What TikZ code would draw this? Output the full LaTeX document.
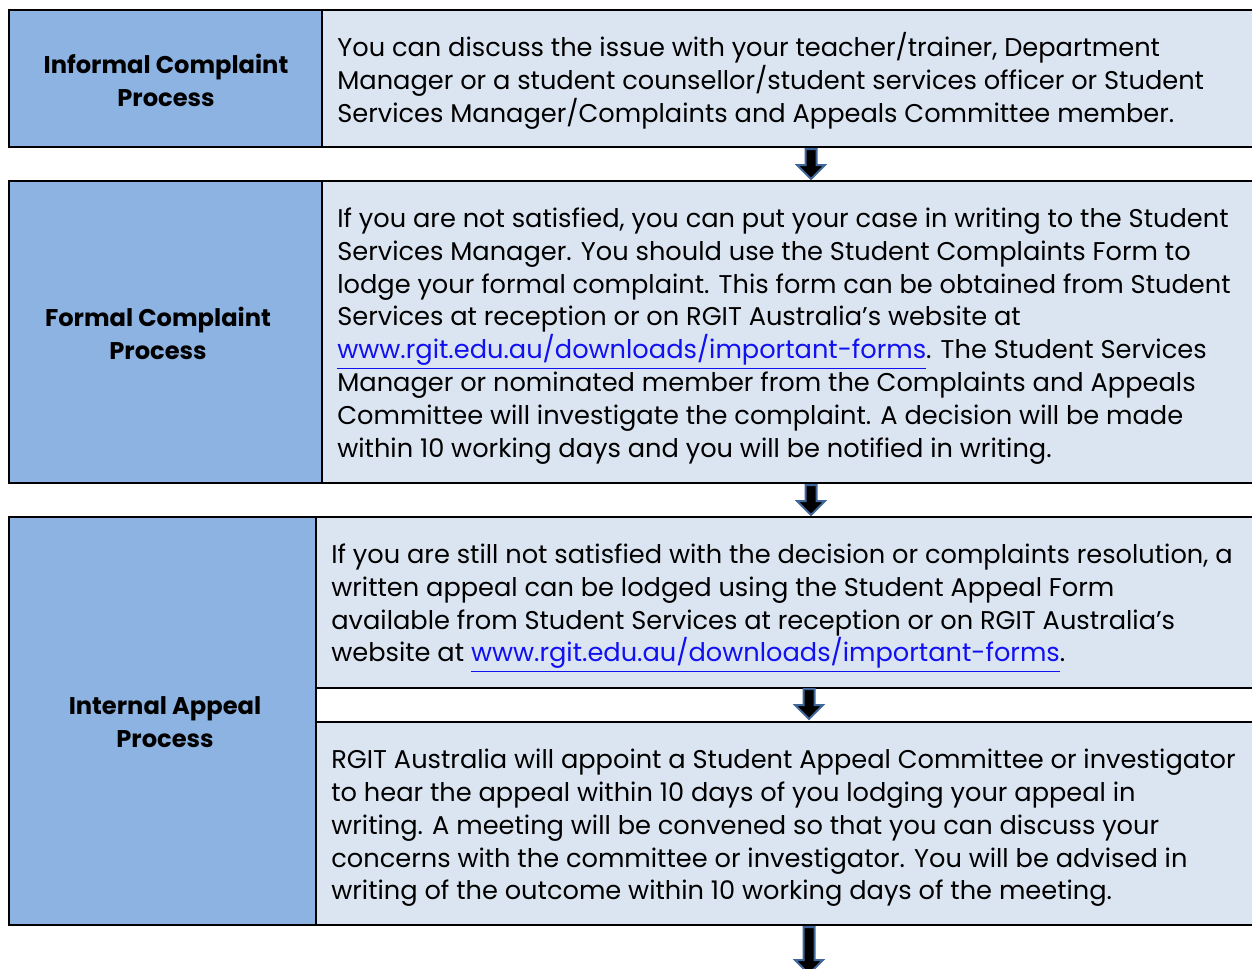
\documentclass[tikz,border=0pt]{standalone}
\usepackage{fontspec}
\setmainfont{Poppins}
\usetikzlibrary{calc}

\definecolor{headblue}{HTML}{8DB3E2}
\definecolor{bodyblue}{HTML}{DBE5F1}
\definecolor{arrowedge}{HTML}{41679A}
\definecolor{linkblue}{HTML}{1010F0}

\newcommand\weblink[1]{\textcolor{linkblue}{\underline{#1}}}

\begin{document}
\begin{tikzpicture}[x=0.6pt,y=-0.6pt,
    cell/.style={draw=black,line width=1.3pt},
    headtext/.style={align=center,font=\fontsize{14.5}{19.7}\selectfont\bfseries},
    bodytext/.style={anchor=west,align=left,inner sep=0pt,font=\fontsize{15.4}{19.7}\selectfont},
    blockarrow/.style={fill=black,draw=arrowedge,line width=1.2pt,line join=miter}]
  \useasboundingbox (0,0) rectangle (1252,968);
  \clip (0,0) rectangle (1252,968);

  % table cells
  \filldraw[cell,fill=headblue] (9,10) rectangle (322,147);
  \filldraw[cell,fill=bodyblue] (322,10) rectangle (1265,147);

  \filldraw[cell,fill=headblue] (9,181) rectangle (322,483);
  \filldraw[cell,fill=bodyblue] (322,181) rectangle (1265,483);

  \filldraw[cell,fill=headblue] (9,517) rectangle (316,925);
  \filldraw[cell,fill=bodyblue] (316,517) rectangle (1265,688);
  \draw[cell] (316,688) rectangle (1265,722);
  \filldraw[cell,fill=bodyblue] (316,722) rectangle (1265,925);

  % left column
  \node[headtext] (informal) at (166,80) {Informal Complaint\\Process};
  \node[headtext] (formal) at (158,333) {Formal Complaint\\Process};
  \node[headtext] (appeal) at (165,722) {Internal Appeal\\Process};

  % right column
  \node[bodytext] (informaltext) at (337,81) {You can discuss the issue with your teacher/trainer, Department\\
    Manager or a student counsellor/student services officer or Student\\
    Services Manager/Complaints and Appeals Committee member.};
  \node[bodytext] (formaltext) at (337,336) {If you are not satisfied, you can put your case in writing to the Student\\
    Services Manager. You should use the Student Complaints Form to\\
    lodge your formal complaint. This form can be obtained from Student\\
    Services at reception or on RGIT Australia’s website at\\
    \weblink{www.rgit.edu.au/downloads/important-forms}. The Student Services\\
    Manager or nominated member from the Complaints and Appeals\\
    Committee will investigate the complaint. A decision will be made\\
    within 10 working days and you will be notified in writing.};
  \node[bodytext] (lodgetext) at (331,608) {If you are still not satisfied with the decision or complaints resolution, a\\
    written appeal can be lodged using the Student Appeal Form\\
    available from Student Services at reception or on RGIT Australia’s\\
    website at \weblink{www.rgit.edu.au/downloads/important-forms}.};
  \node[bodytext] (hearingtext) at (331,828) {RGIT Australia will appoint a Student Appeal Committee or investigator\\
    to hear the appeal within 10 days of you lodging your appeal in\\
    writing. A meeting will be convened so that you can discuss your\\
    concerns with the committee or investigator. You will be advised in\\
    writing of the outcome within 10 working days of the meeting.};

  % block arrows between the steps
  \def\drawArrow#1#2{\filldraw[blockarrow] ($(#1)+(-5.5,0)$) -- ($(#2)+(-5.5,-14)$) -- ($(#2)+(-14,-14)$)
    -- (#2) -- ($(#2)+(14,-14)$) -- ($(#2)+(5.5,-14)$) -- ($(#1)+(5.5,0)$) -- cycle;}
  \coordinate (step1) at (811,149);
  \coordinate (step2) at (811,179);
  \coordinate (step3) at (811,485);
  \coordinate (step4) at (811,515);
  \coordinate (step5) at (809,689);
  \coordinate (step6) at (809,719);
  \coordinate (step7) at (809,927);
  \coordinate (step8) at (809,974);
  \drawArrow{step1}{step2}
  \drawArrow{step3}{step4}
  \drawArrow{step5}{step6}
  \drawArrow{step7}{step8}
\end{tikzpicture}
\end{document}
